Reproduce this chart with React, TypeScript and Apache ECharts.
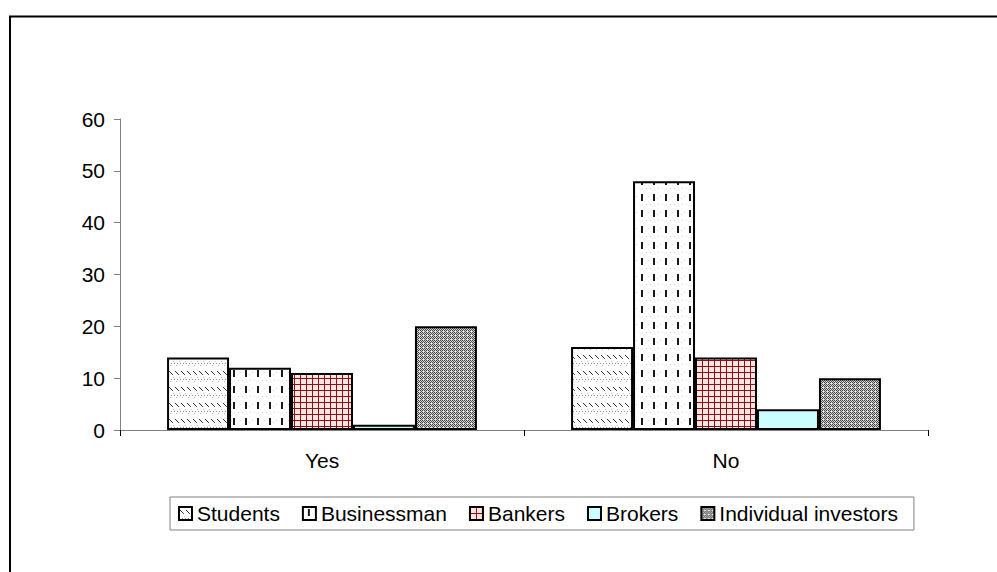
import React, { useEffect, useRef } from "react";
import * as echarts from "echarts";

const categories = ["Yes", "No"];
const seriesNames = ["Students", "Businessman", "Bankers", "Brokers", "Individual investors"];
const students = [14, 16];
const businessman = [12, 48];
const bankers = [11, 14];
const brokers = [1, 4];
const individualInvestors = [20, 10];
const yTicks = { min: 0, max: 60, interval: 10 };

function makeTile(w: number, h: number, draw: (ctx: CanvasRenderingContext2D) => void) {
  const c = document.createElement("canvas");
  c.width = w;
  c.height = h;
  const ctx = c.getContext("2d") as CanvasRenderingContext2D;
  draw(ctx);
  return { image: c, repeat: "repeat", imageWidth: w, imageHeight: h } as any;
}

function px(ctx: CanvasRenderingContext2D, x: number, y: number, color: string, w = 1, h = 1) {
  ctx.fillStyle = color;
  ctx.fillRect(x, y, w, h);
}

function buildPatterns() {
  const studentsP = makeTile(6, 16, (ctx) => {
    px(ctx, 0, 0, "#ffffff", 6, 16);
    px(ctx, 1, 3, "#303030");
    px(ctx, 2, 4, "#303030");
    px(ctx, 3, 5, "#303030");
    px(ctx, 4, 6, "#505050");
    px(ctx, 0, 11, "#8a8a8a");
    px(ctx, 3, 11, "#8a8a8a");
    px(ctx, 2, 13, "#b0b0b0");
    px(ctx, 5, 9, "#c8c8c8");
  });
  const businessP = makeTile(12, 16, (ctx) => {
    px(ctx, 0, 0, "#ffffff", 12, 16);
    px(ctx, 5, 2, "#1a1a1a", 2, 7);
    px(ctx, 0, 4, "#cfcfcf");
    px(ctx, 10, 12, "#cfcfcf");
    px(ctx, 2, 12, "#dcdcdc");
    px(ctx, 9, 6, "#dcdcdc");
  });
  const bankersP = makeTile(6, 6, (ctx) => {
    px(ctx, 0, 0, "#ffe4e4", 6, 6);
    px(ctx, 0, 0, "#8b1010", 6, 1);
    px(ctx, 0, 0, "#8b1010", 1, 6);
  });
  const investorsP = makeTile(4, 4, (ctx) => {
    px(ctx, 0, 0, "#d4d4d4", 4, 4);
    px(ctx, 0, 0, "#404040");
    px(ctx, 2, 0, "#404040");
    px(ctx, 1, 1, "#505050");
    px(ctx, 3, 1, "#505050");
    px(ctx, 0, 2, "#404040");
    px(ctx, 2, 2, "#404040");
    px(ctx, 1, 3, "#505050");
    px(ctx, 3, 3, "#f0f0f0");
  });
  return [studentsP, businessP, bankersP, "#ccffff", investorsP];
}

export default function App() {
  const ref = useRef<HTMLDivElement>(null);

  useEffect(() => {
    if (!ref.current) return;
    const chart = echarts.init(ref.current, null, { renderer: "svg" });
    const fills = buildPatterns();
    const values = [students, businessman, bankers, brokers, individualInvestors];
    const font = "'Liberation Sans', Arial, sans-serif";

    chart.setOption({
      animation: false,
      backgroundColor: "#ffffff",
      textStyle: { fontFamily: font },
      grid: { left: 120, right: 69, top: 119, bottom: 142, containLabel: false },
      graphic: [
        {
          type: "rect",
          shape: { x: 10, y: 16.5, width: 1200, height: 800 },
          style: { fill: "none", stroke: "#000000", lineWidth: 2 },
          silent: true,
        },
      ],
      legend: {
        data: seriesNames,
        left: 170,
        top: 497,
        orient: "horizontal",
        itemWidth: 13,
        itemHeight: 13,
        itemGap: 22,
        padding: [6, 16, 6, 8],
        borderColor: "#808080",
        borderWidth: 1,
        icon: "rect",
        textStyle: { fontFamily: font, fontSize: 21, color: "#000000" },
      },
      xAxis: {
        type: "category",
        data: categories,
        axisLine: { lineStyle: { color: "#808080", width: 1 } },
        axisTick: { show: true, length: 6, inside: false, lineStyle: { color: "#000000" } },
        axisLabel: { fontFamily: font, fontSize: 21, color: "#000000", margin: 20 },
        splitLine: { show: false },
      },
      yAxis: {
        type: "value",
        min: yTicks.min,
        max: yTicks.max,
        interval: yTicks.interval,
        axisLine: { show: true, lineStyle: { color: "#808080", width: 1 } },
        axisTick: { show: true, length: 6, inside: false, lineStyle: { color: "#808080" } },
        axisLabel: { fontFamily: font, fontSize: 21, color: "#000000", margin: 15 },
        splitLine: { show: false },
      },
      series: seriesNames.map((name, i) => ({
        name,
        type: "bar",
        data: values[i],
        barGap: "0%",
        barCategoryGap: "23.3%",
        itemStyle: { color: fills[i], borderColor: "#000000", borderWidth: 2 },
      })),
    });

    return () => chart.dispose();
  }, []);

  return (
    <div
      ref={ref}
      style={{ position: "fixed", left: 0, top: 0, width: "997px", height: "572px" }}
    />
  );
}
